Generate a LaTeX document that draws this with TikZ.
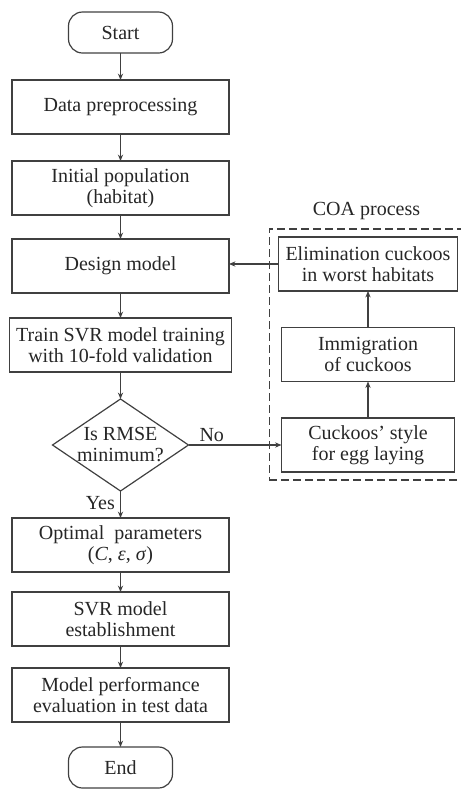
\documentclass[tikz,border=0pt]{standalone}
\usepackage{fontspec}
\setmainfont{Liberation Serif}
\usetikzlibrary{positioning,shapes.geometric,arrows.meta,fit}

\begin{document}
\begin{tikzpicture}[
    node distance=12.5pt,
    every node/.style={
        text=black!85,
        align=center,
        font=\fontsize{10}{10.5}\selectfont
    },
    stepbox/.style={
        draw=black!75,
        line width=0.6pt,
        outer sep=0pt,
        minimum width=108.5pt,
        minimum height=27pt
    },
    coabox/.style={
        stepbox,
        minimum width=86.5pt
    },
    terminal/.style={
        draw=black!75,
        line width=0.6pt,
        outer sep=0pt,
        rounded corners=7pt,
        minimum width=52pt,
        minimum height=20.5pt
    },
    decision/.style={
        draw=black!75,
        line width=0.6pt,
        outer sep=0pt,
        diamond,
        aspect=1.48,
        inner sep=-2pt,
        minimum width=68pt,
        minimum height=46pt
    },
    arrow/.style={->, draw=black!75, line width=0.6pt},
    >={Stealth[length=3.2pt, width=2.6pt]}
]
\useasboundingbox (0,0) rectangle (230.5pt,-397pt);

\node (start) [terminal] at (60.25pt,-16.25pt) {Start};

\node (prep) [stepbox, below=13.5pt of start]
    {Data preprocessing};

\node (init) [stepbox, below=13.5pt of prep]
    {Initial population\\(habitat)};

\node (design) [stepbox, below=12pt of init]
    {Design model};

\node (train) [stepbox, below=of design]
    {Train SVR model training\\with 10-fold validation};

\node (rmse) [decision, below=13.5pt of train]
    {Is RMSE\\minimum?};

\node (optimal) [stepbox, below=13.5pt of rmse]
    {Optimal\ \ parameters\\(\textit{C}, \textit{ε}, \textit{σ})};

\node (svr) [stepbox, below=10pt of optimal]
    {SVR model\\establishment};

\node (perf) [stepbox, below=11pt of svr]
    {Model performance\\evaluation in test data};

\node (end) [terminal, below=of perf] {End};

% COA process
\node (egg) [coabox, right=46.5pt of rmse]
    {Cuckoos' style\\for egg laying};

\node (immig) [coabox, above=18.25pt of egg]
    {Immigration\\of cuckoos};

\node (elim) [coabox, above=18.25pt of immig]
    {Elimination cuckoos\\in worst habitats};

\node (coa) [draw=black!75, line width=0.6pt, dash pattern=on 4pt off 2pt,
    fit=(elim)(egg), inner xsep=4pt, inner ysep=4pt, xshift=-0.75pt] {};

\node (coalabel) [above=1pt of coa] {COA process};

\draw[arrow] (start) -- (prep);
\draw[arrow] (prep) -- (init);
\draw[arrow] (init) -- (design);
\draw[arrow] (design) -- (train);
\draw[arrow] (train) -- (rmse);
\draw[arrow] (rmse) -- node[left, inner sep=2.5pt, pos=0.45] (yes) {Yes} (optimal);
\draw[arrow] (optimal) -- (svr);
\draw[arrow] (svr) -- (perf);
\draw[arrow] (perf) -- (end);

\draw[arrow] (rmse.east) -- node[above, inner sep=1.5pt, pos=0.25] (no) {No} (egg.west);
\draw[arrow] (egg) -- (immig);
\draw[arrow] (immig) -- (elim);
\draw[arrow] (elim.west) -- (elim.west -| design.east);

\end{tikzpicture}
\end{document}
